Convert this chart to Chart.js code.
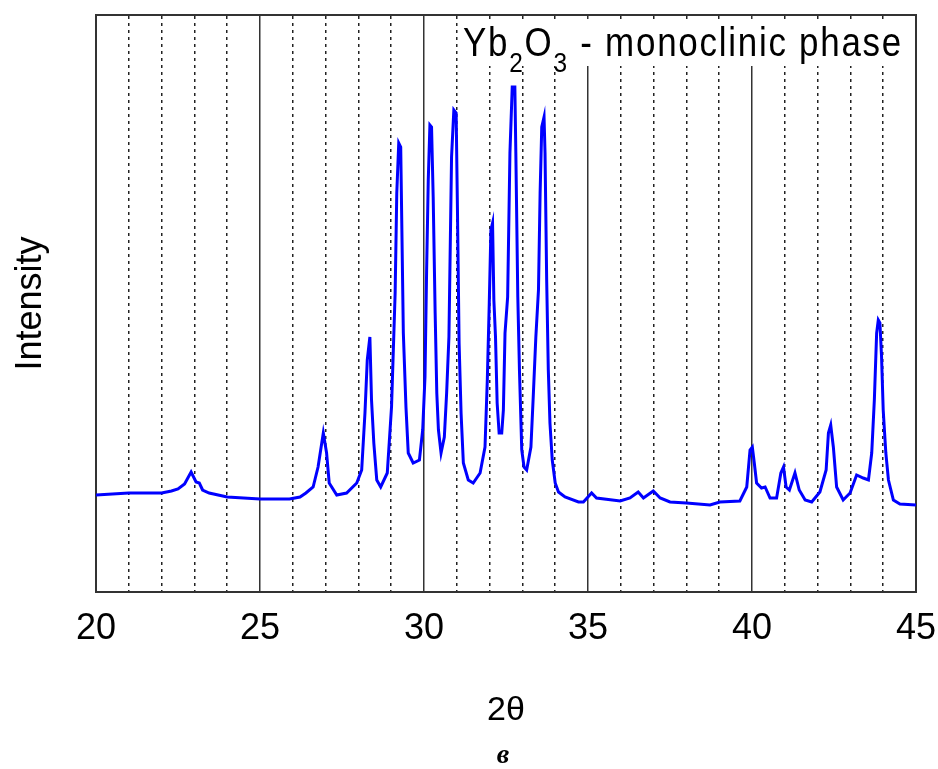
<!DOCTYPE html>
<html>
<head>
<meta charset="utf-8">
<script src="https://cdn.jsdelivr.net/npm/chart.js@4.4.0/dist/chart.umd.min.js"></script>
<style>
html, body { margin: 0; padding: 0; background: #fff; }
#wrap { width: 938px; height: 769px; }
</style>
</head>
<body>
<div id="wrap"><canvas id="xrd-chart"></canvas></div>
<script>
// 2-theta positions (degrees) and intensity (arbitrary units)
const twoTheta = [
  20.0, 20.5, 21.0, 21.5, 22.0, 22.3, 22.5, 22.7, 22.9, 23.05, 23.15, 23.25, 23.45, 24.0, 25.0, 25.9,
  26.22, 26.4, 26.62, 26.77, 26.93, 27.03, 27.11, 27.34, 27.64, 27.95, 28.1, 28.2, 28.27, 28.35, 28.4,
  28.47, 28.56, 28.68, 28.88, 29.01, 29.12, 29.17, 29.23, 29.29, 29.32, 29.37, 29.45, 29.52, 29.67,
  29.86, 29.96, 30.03, 30.08, 30.13, 30.18, 30.23, 30.28, 30.34, 30.39, 30.44, 30.52, 30.62, 30.69,
  30.76, 30.84, 30.91, 30.98, 31.02, 31.07, 31.13, 31.2, 31.35, 31.5, 31.71, 31.86, 31.93, 31.99,
  32.04, 32.09, 32.13, 32.18, 32.23, 32.29, 32.37, 32.42, 32.47, 32.55, 32.62, 32.69, 32.77, 32.8,
  32.86, 32.91, 32.98, 33.05, 33.13, 33.26, 33.33, 33.41, 33.49, 33.54, 33.59, 33.66, 33.69, 33.74,
  33.79, 33.84, 33.91, 34.0, 34.1, 34.3, 34.71, 34.86, 35.11, 35.26, 35.98, 36.28, 36.53, 36.69,
  36.99, 37.2, 37.5, 38.0, 38.72, 39.02, 39.63, 39.84, 39.94, 40.01, 40.07, 40.14, 40.29, 40.4,
  40.55, 40.75, 40.88, 40.96, 41.04, 41.14, 41.31, 41.44, 41.62, 41.82, 42.07, 42.26, 42.33, 42.4,
  42.48, 42.58, 42.78, 42.99, 43.19, 43.39, 43.55, 43.65, 43.73, 43.8, 43.85, 43.9, 43.95, 44.0,
  44.08, 44.16, 44.31, 44.51, 45.0
];
const intensity = [
  97, 98, 99, 99, 99, 101, 103, 108, 120, 110, 109, 102, 99, 95, 93, 93,
  95, 99, 105, 125, 159, 139, 109, 97, 99, 109, 122, 179, 232, 255, 192,
  149, 112, 105, 119, 185, 299, 399, 449, 445, 375, 259, 185, 139, 129,
  132, 162, 215, 322, 412, 467, 465, 395, 279, 199, 162, 139, 155, 199,
  255, 435, 482, 479, 382, 249, 179, 129, 112, 109, 119, 145, 212, 289,
  362, 369, 292, 255, 189, 159, 159, 182, 259, 295, 439, 505, 505, 439,
  295, 222, 142, 125, 122, 145, 195, 255, 302, 399, 465, 475, 439, 312,
  222, 169, 132, 109, 100, 95, 90, 90, 99, 94, 91, 94, 100, 94,
  101, 94, 90, 89, 87, 90, 91, 105, 142, 145, 129, 109, 104, 105,
  94, 94, 119, 125, 105, 102, 119, 102, 92, 90, 100, 122, 159, 167,
  145, 105, 92, 99, 117, 114, 112, 139, 192, 259, 272, 269, 235, 182,
  139, 112, 92, 88, 87
];
const majorTicks = [20, 25, 30, 35, 40, 45];
const minorTicks = [20, 21, 22, 23, 24, 25, 26, 27, 28, 29, 30, 31, 32, 33, 34, 35, 36, 37, 38, 39, 40, 41, 42, 43, 44, 45];

const points = twoTheta.map((x, i) => ({ x: x, y: intensity[i] }));
const FONT = '"Liberation Sans", Arial, sans-serif';

// phase label in the upper right corner (with subscripts) and the figure letter
const labelPlugin = {
  id: 'labels',
  afterDraw(chart) {
    const ctx = chart.ctx;
    const area = chart.chartArea;
    ctx.save();
    ctx.fillStyle = '#fff';
    ctx.fillRect(459, area.top + 4, area.right - 460, 47);

    const parts = [
      { t: 'Yb', sub: false }, { t: '2', sub: true }, { t: 'O', sub: false },
      { t: '3', sub: true }, { t: ' - monoclinic phase', sub: false }
    ];
    ctx.letterSpacing = '2px';
    let w = 0;
    parts.forEach(p => {
      ctx.font = (p.sub ? '28px ' : '40px ') + FONT;
      p.w = ctx.measureText(p.t).width;
      w += p.w;
    });
    const sx = 440 / w;
    ctx.translate(463, 0);
    ctx.scale(sx, 1);
    ctx.fillStyle = '#000';
    ctx.textBaseline = 'alphabetic';
    let x = 0;
    parts.forEach(p => {
      ctx.font = (p.sub ? '28px ' : '40px ') + FONT;
      ctx.fillText(p.t, x, p.sub ? 72 : 56);
      x += p.w;
    });
    ctx.restore();

    ctx.save();
    ctx.fillStyle = '#000';
    ctx.font = 'bold italic 28px "Liberation Serif", "DejaVu Serif", serif';
    ctx.textAlign = 'center';
    ctx.textBaseline = 'alphabetic';
    ctx.fillText('в', 503, 763);
    ctx.restore();
  }
};

const ctx = document.getElementById('xrd-chart').getContext('2d');
let chart = new Chart(ctx, {
  type: 'line',
  data: {
    datasets: [{
      label: 'Yb2O3',
      data: points,
      borderColor: '#0000ff',
      borderWidth: 3,
      pointRadius: 0,
      tension: 0,
      fill: false
    }]
  },
  options: {
    responsive: true,
    maintainAspectRatio: false,
    animation: false,
    layout: { padding: 0 },
    plugins: {
      legend: { display: false },
      tooltip: { enabled: false }
    },
    scales: {
      x: {
        type: 'linear',
        position: 'bottom',
        min: 20,
        max: 45,
        afterBuildTicks: (scale) => { scale.ticks = majorTicks.map(v => ({ value: v })); },
        afterFit: (scale) => {
          scale.height = 177;
          scale.paddingLeft = 0;
          scale.paddingRight = 0;
        },
        grid: { color: '#333', lineWidth: 1.5, drawTicks: false },
        border: { display: true, color: '#333', width: 2 },
        ticks: {
          color: '#000',
          padding: 15,
          maxRotation: 0,
          font: { family: FONT, size: 36 }
        },
        title: {
          display: true,
          text: '2θ',
          color: '#000',
          padding: { top: 0, bottom: 38 },
          font: { family: FONT, size: 34 }
        }
      },
      x2: {
        type: 'linear',
        position: 'top',
        min: 20,
        max: 45,
        afterBuildTicks: (scale) => { scale.ticks = minorTicks.map(v => ({ value: v })); },
        afterFit: (scale) => {
          scale.height = 15;
          scale.paddingLeft = 0;
          scale.paddingRight = 0;
        },
        grid: {
          drawTicks: false,
          lineWidth: 1.5,
          color: (c) => (c.tick && c.tick.value % 5 === 0) ? 'rgba(0,0,0,0)' : '#222'
        },
        border: { display: true, color: '#333', width: 2, dash: [3, 4] },
        ticks: { display: false }
      },
      y: {
        type: 'linear',
        position: 'left',
        min: 0,
        max: 577,
        afterFit: (scale) => { scale.width = 96; },
        grid: { display: false },
        border: { display: true, color: '#333', width: 2 },
        ticks: { display: false },
        title: {
          display: true,
          text: 'Intensity',
          color: '#000',
          padding: { top: 9, bottom: 0 },
          font: { family: FONT, size: 36 }
        }
      },
      y2: {
        type: 'linear',
        position: 'right',
        min: 0,
        max: 1,
        afterFit: (scale) => { scale.width = 22; },
        grid: { display: false },
        border: { display: true, color: '#333', width: 2 },
        ticks: { display: false }
      }
    }
  },
  plugins: [labelPlugin]
});
</script>
</body>
</html>
